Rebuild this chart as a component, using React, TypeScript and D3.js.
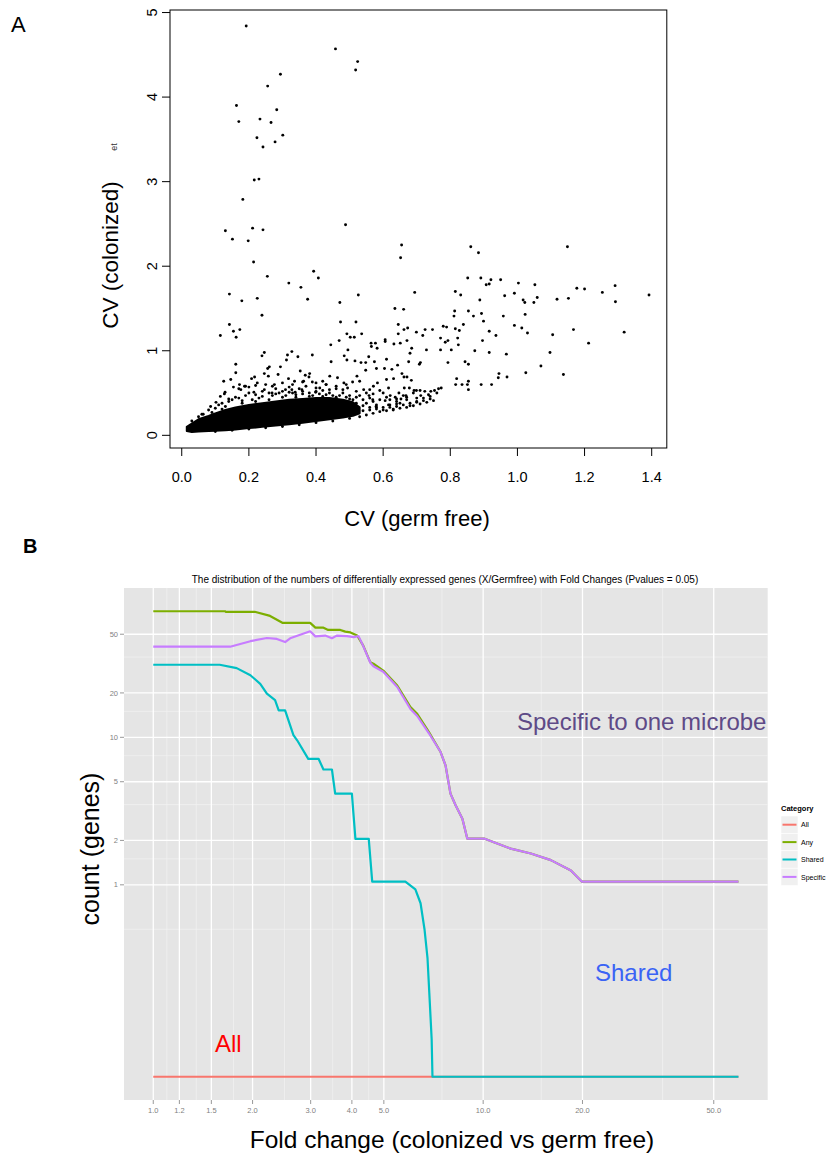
import React from 'react';
import * as d3 from 'd3';

// ---------------- Panel A data ----------------
const cvGermFreeTicks = [0, 0.2, 0.4, 0.6, 0.8, 1.0, 1.2, 1.4];
const cvColonizedTicks = [0, 1, 2, 3, 4, 5];

// solid dense core of the scatter (envelope)
const denseCoreX = [0.015, 0.03, 0.05, 0.08, 0.1, 0.13, 0.16, 0.2, 0.24, 0.28, 0.32, 0.36, 0.4, 0.44, 0.48, 0.51, 0.53];
const denseCoreLow = [0.05, 0.04, 0.045, 0.05, 0.055, 0.06, 0.07, 0.085, 0.1, 0.115, 0.13, 0.15, 0.17, 0.19, 0.21, 0.23, 0.26];
const denseCoreHigh = [0.1, 0.14, 0.19, 0.23, 0.26, 0.3, 0.33, 0.36, 0.38, 0.4, 0.42, 0.43, 0.44, 0.44, 0.42, 0.39, 0.33];

// individual genes: [CV germ free, CV colonized]
const scatterPoints: [number, number][] = [
  [0.192, 4.84], [0.458, 4.57], [0.524, 4.42], [0.518, 4.32], [0.294, 4.27], [0.256, 4.13], [0.163, 3.9],
  [0.283, 3.85], [0.17, 3.71], [0.233, 3.74], [0.266, 3.7], [0.301, 3.55], [0.224, 3.52], [0.278, 3.47],
  [0.242, 3.41], [0.23, 3.03], [0.216, 3.02], [0.182, 2.79], [0.488, 2.49], [0.13, 2.42], [0.211, 2.45],
  [0.242, 2.43], [0.151, 2.32], [0.198, 2.3], [0.655, 2.25], [0.652, 2.1], [0.214, 2.05], [0.861, 2.23],
  [0.884, 2.16], [1.149, 2.23], [0.393, 1.94], [0.407, 1.86], [0.255, 1.88], [0.319, 1.8], [0.355, 1.75],
  [0.142, 1.67], [0.225, 1.62], [0.375, 1.61], [0.526, 1.66], [0.179, 1.59], [0.471, 1.57], [0.694, 1.69],
  [0.852, 1.86], [0.891, 1.86], [0.921, 1.84], [0.95, 1.84], [0.907, 1.78], [0.916, 1.79], [1.003, 1.8],
  [1.052, 1.78], [0.991, 1.68], [0.815, 1.7], [0.831, 1.66], [0.962, 1.65], [0.888, 1.6], [1.017, 1.6],
  [1.022, 1.57], [1.049, 1.57], [1.059, 1.63], [1.118, 1.61], [1.152, 1.62], [1.177, 1.74], [1.2, 1.73],
  [1.253, 1.69], [1.291, 1.77], [1.292, 1.58], [1.392, 1.66], [1.167, 1.25], [1.318, 1.22], [1.212, 1.09],
  [1.105, 1.19], [1.097, 0.98], [1.07, 0.82], [1.137, 0.72], [1.025, 0.74], [1.023, 1.43], [1.03, 1.21],
  [1.013, 1.27], [0.991, 1.3], [0.958, 1.41], [0.936, 1.18], [0.967, 0.96], [0.916, 0.98], [0.899, 1.35],
  [0.893, 1.44], [0.896, 1.12], [0.916, 1.23], [0.873, 1.0], [0.945, 0.73], [0.969, 0.69], [0.943, 0.68],
  [0.923, 0.6], [0.854, 1.47], [0.839, 1.31], [0.869, 1.41], [0.827, 1.24], [0.815, 1.26], [0.811, 1.41],
  [0.813, 1.47], [0.822, 1.15], [0.824, 1.07], [0.793, 1.12], [0.803, 1.01], [0.793, 0.86], [0.844, 0.87],
  [0.854, 0.84], [0.819, 0.67], [0.854, 0.64], [0.851, 0.6], [0.854, 0.54], [0.835, 0.6], [0.816, 0.6],
  [0.892, 0.6], [0.771, 1.01], [0.779, 1.29], [0.789, 1.28], [0.747, 1.25], [0.725, 1.25], [0.718, 1.18],
  [0.699, 1.22], [0.771, 1.15], [0.785, 1.1], [0.635, 1.5], [0.661, 1.49], [0.645, 1.31], [0.662, 1.25],
  [0.673, 1.27], [0.645, 1.2], [0.671, 1.12], [0.651, 1.09], [0.685, 1.03], [0.68, 0.97], [0.711, 0.86],
  [0.473, 1.34], [0.519, 1.34], [0.492, 1.2], [0.502, 1.16], [0.536, 1.2], [0.514, 1.16], [0.469, 1.12],
  [0.444, 1.07], [0.495, 1.01], [0.484, 0.94], [0.577, 1.09], [0.564, 1.09], [0.606, 1.13], [0.606, 1.11],
  [0.582, 1.03], [0.565, 1.05], [0.632, 1.08], [0.115, 1.18], [0.142, 1.31], [0.154, 1.23], [0.162, 1.16],
  [0.173, 1.25], [0.239, 1.42], [0.161, 0.84], [0.161, 0.74], [0.146, 0.66], [0.125, 0.64], [0.246, 0.98],
  [0.239, 0.94], [0.315, 0.95], [0.328, 0.99], [0.346, 0.93], [0.389, 0.95], [0.312, 0.89], [0.445, 0.87],
  [0.557, 0.93], [0.548, 0.86], [0.534, 0.86], [0.574, 0.87], [0.516, 0.88], [0.492, 0.89], [0.58, 0.79],
  [0.61, 0.9], [0.604, 0.79], [0.626, 0.78], [0.643, 0.83], [0.676, 0.87], [0.729, 1.01], [0.708, 0.84],
  [0.631, 0.67], [0.656, 0.73], [0.662, 0.69], [0.671, 0.69], [0.684, 0.65], [0.663, 0.56], [0.678, 0.56],
  [0.692, 0.53], [0.647, 0.5], [0.668, 0.47], [0.64, 0.37], [0.653, 0.43], [0.712, 0.47], [0.7, 0.44],
  [0.724, 0.52], [0.742, 0.52], [0.753, 0.53], [0.765, 0.55], [0.773, 0.56], [0.735, 0.48], [0.699, 0.53],
  [0.61, 0.66], [0.616, 0.56], [0.583, 0.62], [0.571, 0.58], [0.59, 0.53], [0.621, 0.47], [0.636, 0.45],
  [0.606, 0.41], [0.616, 0.36], [0.579, 0.34], [0.569, 0.42], [0.558, 0.47], [0.542, 0.54], [0.53, 0.64],
  [0.548, 0.77], [0.522, 0.7], [0.509, 0.63], [0.494, 0.56], [0.483, 0.62], [0.464, 0.68], [0.441, 0.7],
  [0.42, 0.64], [0.411, 0.56], [0.43, 0.6], [0.399, 0.51], [0.379, 0.69], [0.389, 0.63], [0.368, 0.71],
  [0.353, 0.76], [0.381, 0.73], [0.363, 0.64], [0.336, 0.64], [0.318, 0.67], [0.287, 0.72], [0.261, 0.81],
  [0.256, 0.79], [0.258, 0.7], [0.246, 0.73], [0.294, 0.81], [0.276, 0.6], [0.217, 0.69], [0.187, 0.58],
  [0.172, 0.6], [0.176, 0.54], [0.154, 0.57], [0.127, 0.49], [0.115, 0.46], [0.129, 0.51], [0.086, 0.34],
  [0.064, 0.25], [0.102, 0.39], [0.208, 0.67], [0.225, 0.62], [0.215, 0.51], [0.246, 0.54], [0.269, 0.5],
  [0.309, 0.54], [0.328, 0.54], [0.358, 0.54], [0.338, 0.51],
  [0.27, 0.47], [0.29, 0.5], [0.31, 0.47], [0.34, 0.48], [0.36, 0.49], [0.39, 0.47], [0.41, 0.49],
  [0.43, 0.48], [0.45, 0.47], [0.47, 0.47], [0.49, 0.45], [0.51, 0.42], [0.53, 0.47], [0.55, 0.5],
  [0.56, 0.44], [0.59, 0.42], [0.61, 0.45], [0.64, 0.43], [0.66, 0.47], [0.69, 0.5], [0.71, 0.53],
  [0.23, 0.44], [0.21, 0.42], [0.18, 0.41], [0.16, 0.45], [0.14, 0.43], [0.2, 0.57], [0.22, 0.59],
  [0.19, 0.58], [0.17, 0.55], [0.25, 0.6], [0.27, 0.58], [0.3, 0.62], [0.33, 0.6], [0.36, 0.63],
  [0.4, 0.62], [0.43, 0.6], [0.46, 0.58], [0.49, 0.6],
  [0.03, 0.17], [0.05, 0.22], [0.06, 0.25], [0.08, 0.3], [0.1, 0.32], [0.11, 0.36], [0.12, 0.38],
  [0.14, 0.4], [0.15, 0.42], [0.17, 0.44], [0.19, 0.47], [0.2, 0.5], [0.22, 0.48], [0.24, 0.52],
  [0.26, 0.5], [0.28, 0.55], [0.3, 0.52], [0.32, 0.57], [0.33, 0.5], [0.35, 0.55], [0.37, 0.58],
  [0.38, 0.5], [0.4, 0.56], [0.42, 0.53], [0.44, 0.5], [0.46, 0.55], [0.48, 0.5], [0.5, 0.47],
  [0.52, 0.45], [0.54, 0.42], [0.55, 0.38], [0.57, 0.4], [0.58, 0.36], [0.6, 0.33], [0.62, 0.36],
  [0.63, 0.31], [0.65, 0.38], [0.67, 0.42], [0.68, 0.35], [0.7, 0.4], [0.72, 0.44], [0.74, 0.46],
  [0.76, 0.5], [0.5, 0.26], [0.52, 0.27], [0.54, 0.29], [0.56, 0.3], [0.58, 0.31], [0.6, 0.3],
  [0.62, 0.33], [0.64, 0.34], [0.66, 0.36], [0.68, 0.38], [0.7, 0.39], [0.72, 0.41], [0.74, 0.43],
  [0.02, 0.06], [0.025, 0.1], [0.04, 0.14], [0.07, 0.2], [0.09, 0.27], [0.12, 0.31],
  [0.1, 0.045], [0.15, 0.06], [0.2, 0.075], [0.25, 0.09], [0.3, 0.105], [0.35, 0.125], [0.4, 0.15],
  [0.45, 0.17], [0.5, 0.2], [0.53, 0.22], [0.55, 0.24], [0.57, 0.26], [0.59, 0.28], [0.61, 0.29],
  [0.63, 0.3], [0.65, 0.32], [0.67, 0.33], [0.69, 0.35], [0.71, 0.37], [0.73, 0.39], [0.75, 0.41],
  [0.13, 0.34], [0.18, 0.38], [0.22, 0.4], [0.26, 0.42], [0.3, 0.45], [0.34, 0.45], [0.38, 0.46],
  [0.42, 0.46], [0.46, 0.45], [0.5, 0.43], [0.52, 0.38], [0.54, 0.35], [0.56, 0.33], [0.58, 0.33],
  [0.24, 0.46], [0.28, 0.49], [0.32, 0.51], [0.36, 0.52], [0.4, 0.52], [0.44, 0.54], [0.48, 0.54],
  [0.52, 0.52], [0.56, 0.54], [0.6, 0.5], [0.62, 0.42], [0.64, 0.4], [0.67, 0.45], [0.57, 0.49]
];

// ---------------- Panel B data ----------------
const categories = ['All', 'Any', 'Shared', 'Specific'];
const categoryColors = ['#F8766D', '#7CAE00', '#00BFC4', '#C77CFF'];

// [fold change, count of genes]
const allCurve: [number, number][] = [[1.0, 0], [59.4, 0]];
const anyCurve: [number, number][] = [
  [1.0, 71.5], [1.65, 71.5], [1.66, 70.9], [2.03, 70.9], [2.26, 66.5], [2.47, 59.6], [2.99, 59.6],
  [3.1, 55.4], [3.27, 55.4], [3.39, 53.4], [3.69, 53.4], [3.82, 52.0], [3.96, 51.4], [4.15, 49.0],
  [4.33, 41.8], [4.55, 32.2], [4.65, 31.5], [4.98, 28.3], [5.49, 22.4], [6.02, 16.0], [6.31, 14.4],
  [6.85, 10.8], [7.43, 7.9], [7.69, 6.4], [7.96, 4.1], [8.25, 3.41], [8.65, 2.76], [8.95, 2.01],
  [10.06, 2.01], [12.12, 1.71], [13.95, 1.58], [16.04, 1.42], [18.45, 1.2], [19.93, 1.0], [59.4, 1.0]
];
const sharedCurve: [number, number][] = [
  [1.0, 31.0], [1.59, 31.0], [1.79, 29.4], [1.97, 26.3], [2.11, 23.0], [2.21, 19.7], [2.34, 17.8],
  [2.4, 15.2], [2.51, 15.2], [2.66, 10.3], [2.73, 9.5], [2.95, 7.1], [3.17, 7.1], [3.28, 6.0],
  [3.48, 6.0], [3.56, 4.1], [4.0, 4.1], [4.1, 2.0], [4.5, 2.0], [4.61, 1.0], [5.81, 1.0], [6.23, 0.88],
  [6.46, 0.7], [6.64, 0.45], [6.78, 0.27], [6.88, 0.12], [6.98, 0.04], [7.02, 0], [59.4, 0]
];
const specificCurve: [number, number][] = [
  [1.0, 41.1], [1.71, 41.1], [1.97, 44.8], [2.21, 47.1], [2.37, 46.4], [2.51, 44.2], [2.6, 46.9],
  [2.99, 52.3], [3.1, 48.3], [3.32, 48.9], [3.48, 46.9], [3.6, 48.9], [3.87, 48.5], [4.05, 47.8],
  [4.19, 48.5], [4.33, 41.5], [4.55, 32.0], [4.65, 30.3], [4.98, 27.8], [5.49, 21.9], [6.02, 15.5],
  [6.31, 13.9], [6.85, 10.6], [7.43, 7.9], [7.69, 6.4], [7.96, 4.1], [8.25, 3.41], [8.65, 2.76],
  [8.95, 2.01], [10.06, 2.01], [12.12, 1.71], [13.95, 1.58], [16.04, 1.42], [18.45, 1.2], [19.93, 1.0],
  [59.4, 1.0]
];
const PSEUDO_COUNT = 0.05;

const foldMajorTicks = [1, 1.2, 1.5, 2, 3, 4, 5, 10, 20, 50];
const foldMinorTicks = [1.1, 1.35, 1.75, 2.5, 3.5, 4.5, 7.5, 15, 35];
const countMajorTicks = [1, 2, 5, 10, 20, 50];
const countMinorTicks = [0.5, 1.5, 3.5, 7.5, 15, 35];

const FONT = 'Liberation Sans, Arial, Helvetica, sans-serif';

export default function App() {
  // ---- Panel A scales ----
  const xA = d3.scaleLinear().domain([-0.035, 1.445]).range([170, 666.8]);
  const yA = d3.scaleLinear().domain([-0.15, 5.03]).range([448, 10]);
  const coreArea = d3
    .area<number>()
    .x((d) => xA(denseCoreX[d]))
    .y0((d) => yA(denseCoreLow[d]))
    .y1((d) => yA(denseCoreHigh[d]))
    .curve(d3.curveLinear);
  const coreIdx = denseCoreX.map((_, i) => i);

  // ---- Panel B scales ----
  const curves = [allCurve, anyCurve, sharedCurve, specificCurve];
  const allPts = curves.flat();
  const lx = d3.extent(allPts, (d) => Math.log10(d[0])) as [number, number];
  const ly = d3.extent(allPts, (d) => Math.log10(d[1] + PSEUDO_COUNT)) as [number, number];
  const ex = (lx[1] - lx[0]) * 0.05;
  const ey = (ly[1] - ly[0]) * 0.05;
  const pL = 124, pR = 767.7, pT = 588, pB = 1100;
  const xB = d3.scaleLog().domain([10 ** (lx[0] - ex), 10 ** (lx[1] + ex)]).range([pL, pR]);
  const yB = d3.scaleLog().domain([10 ** (ly[0] - ey), 10 ** (ly[1] + ey)]).range([pB, pT]);
  const line = d3
    .line<[number, number]>()
    .x((d) => xB(d[0]))
    .y((d) => yB(d[1] + PSEUDO_COUNT));

  const legendTop = 816;
  const keyH = 17.4;

  return (
    <svg
      width={831}
      height={1154}
      viewBox="0 0 831 1154"
      style={{ position: 'absolute', left: 0, top: 0, background: '#fff' }}
      fontFamily={FONT}
    >
      <rect x={0} y={0} width={831} height={1154} fill="#fff" />
      {/* ================= Panel A ================= */}
      <text x={11} y={32} fontSize={22} fill="#000">A</text>
      <path d={coreArea(coreIdx) || ''} fill="#000" stroke="#000" strokeWidth={2} strokeLinejoin="round" />
      {scatterPoints.map((d, i) => (
        <circle key={i} cx={xA(d[0])} cy={yA(d[1])} r={1.45} fill="#000" />
      ))}
      <rect x={170} y={10} width={496.8} height={438} fill="none" stroke="#000" strokeWidth={1} />
      {cvGermFreeTicks.map((t) => (
        <g key={'xa' + t}>
          <line x1={xA(t)} x2={xA(t)} y1={448} y2={456} stroke="#000" />
          <text x={xA(t)} y={482} fontSize={14.5} textAnchor="middle" fill="#000">
            {t.toFixed(1)}
          </text>
        </g>
      ))}
      {cvColonizedTicks.map((t) => (
        <g key={'ya' + t}>
          <line x1={162} x2={170} y1={yA(t)} y2={yA(t)} stroke="#000" />
          <text
            transform={`translate(157,${yA(t)}) rotate(-90)`}
            fontSize={14.5}
            textAnchor="middle"
            fill="#000"
          >
            {t}
          </text>
        </g>
      ))}
      <text x={417} y={526} fontSize={22} textAnchor="middle" fill="#000">CV (germ free)</text>
      <text transform="translate(118,255) rotate(-90)" fontSize={22.5} textAnchor="middle" fill="#000">
        CV (colonized)
      </text>
      <text transform="translate(117,147) rotate(-90)" fontSize={9} textAnchor="middle" fill="#333">et</text>

      {/* ================= Panel B ================= */}
      <text x={23} y={553} fontSize={20} fontWeight="bold" fill="#000">B</text>
      <text x={445} y={583} fontSize={10} textAnchor="middle" fill="#000">
        The distribution of the numbers of differentially expressed genes (X/Germfree) with Fold Changes (Pvalues = 0.05)
      </text>
      <rect x={pL} y={pT} width={pR - pL} height={pB - pT} fill="#E5E5E5" />
      {countMinorTicks.map((t) => (
        <line key={'ymn' + t} x1={pL} x2={pR} y1={yB(t)} y2={yB(t)} stroke="#F2F2F2" strokeWidth={0.7} />
      ))}
      {foldMinorTicks.map((t) => (
        <line key={'xmn' + t} x1={xB(t)} x2={xB(t)} y1={pT} y2={pB} stroke="#F2F2F2" strokeWidth={0.7} />
      ))}
      {countMajorTicks.map((t) => (
        <line key={'ymj' + t} x1={pL} x2={pR} y1={yB(t)} y2={yB(t)} stroke="#FFFFFF" strokeWidth={1.3} />
      ))}
      {foldMajorTicks.map((t) => (
        <line key={'xmj' + t} x1={xB(t)} x2={xB(t)} y1={pT} y2={pB} stroke="#FFFFFF" strokeWidth={1.3} />
      ))}
      {curves.map((c, i) => (
        <path
          key={categories[i]}
          d={line(c) || ''}
          fill="none"
          stroke={categoryColors[i]}
          strokeWidth={2.2}
          strokeLinejoin="round"
        />
      ))}
      {foldMajorTicks.map((t) => (
        <g key={'xbt' + t}>
          <line x1={xB(t)} x2={xB(t)} y1={pB} y2={pB + 4} stroke="#7F7F7F" strokeWidth={0.8} />
          <text x={xB(t)} y={pB + 13} fontSize={7.5} textAnchor="middle" fill="#7F7F7F">
            {t.toFixed(1)}
          </text>
        </g>
      ))}
      {countMajorTicks.map((t) => (
        <g key={'ybt' + t}>
          <line x1={pL - 4} x2={pL} y1={yB(t)} y2={yB(t)} stroke="#7F7F7F" strokeWidth={0.8} />
          <text x={pL - 6} y={yB(t) + 2.6} fontSize={7.5} textAnchor="end" fill="#7F7F7F">
            {t}
          </text>
        </g>
      ))}
      <text x={517} y={730} fontSize={24} fill="#5E4A87">Specific to one microbe</text>
      <text x={595} y={981} fontSize={24} fill="#3A63F5">Shared</text>
      <text x={215} y={1052} fontSize={24} fill="#FF0000">All</text>
      <text x={452} y={1148} fontSize={24.5} textAnchor="middle" fill="#000">
        Fold change (colonized vs germ free)
      </text>
      <text transform="translate(99,849) rotate(-90)" fontSize={25} textAnchor="middle" fill="#000">
        count (genes)
      </text>

      {/* legend */}
      <text x={781} y={811} fontSize={7.5} fontWeight="bold" fill="#000">Category</text>
      {categories.map((c, i) => {
        const top = legendTop + i * keyH;
        return (
          <g key={'lg' + c}>
            <rect x={781} y={top} width={17} height={keyH} fill="#F0F0F0" stroke="#FFFFFF" strokeWidth={0.6} />
            <line x1={782.5} x2={796.5} y1={top + keyH / 2} y2={top + keyH / 2} stroke={categoryColors[i]} strokeWidth={2} />
            <text x={801} y={top + keyH / 2 + 2.6} fontSize={7} fill="#000">{c}</text>
          </g>
        );
      })}
    </svg>
  );
}
